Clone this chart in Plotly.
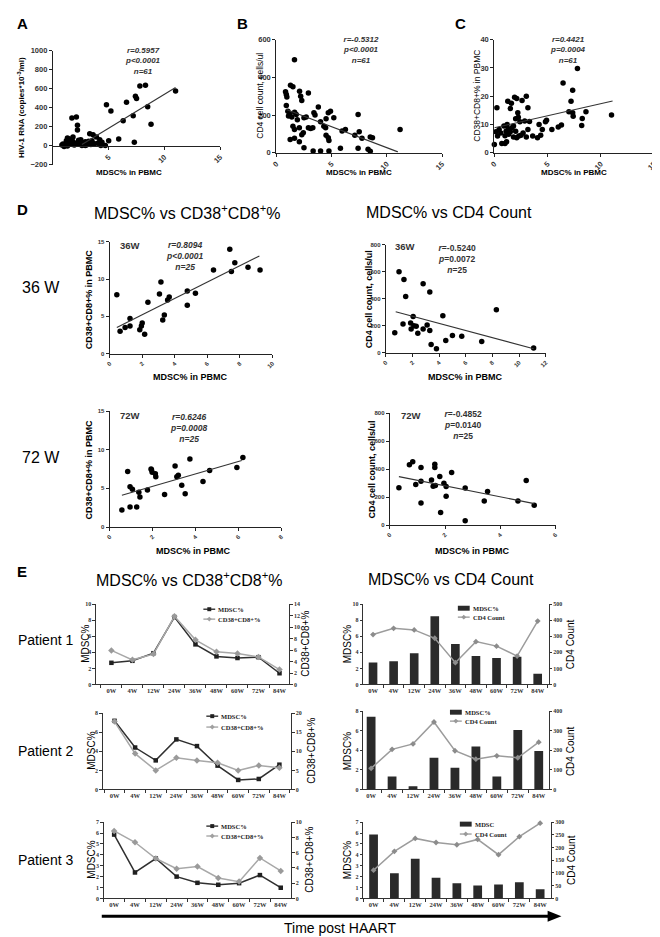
import plotly.graph_objects as go

SANS = "Liberation Sans, Arial, sans-serif"
SERIF = "Liberation Serif, Times New Roman, serif"
W, H = 660, 937

# ---------------- data ----------------
A_x = [11.0, 8.3, 7.8, 7.4, 7.5, 6.6, 8.5, 8.8, 7.2, 6.3, 5.9, 7.3, 4.8, 5.2, 1.7, 2.1, 2.2, 2.2, 3.3, 3.6,
       3.9, 4.2, 4.4, 5.0, 4.3, 4.7, 3.5, 2.9, 3.1, 2.5, 1.3, 1.5, 1.8, 0.9, 1.1, 1.2, 1.4, 1.6, 1.9, 2.3,
       2.6, 2.7, 2.8, 3.0, 3.2, 3.7, 1.0, 1.3, 1.7, 2.1, 2.4, 2.6, 0.8, 1.5, 2.0, 3.4, 4.0, 1.2, 1.8, 2.9, 2.3]
A_y = [575, 635, 627, 520, 495, 455, 410, 225, 315, 260, 70, 35, 430, 365, 290, 300, 215, 165, 125, 115,
       90, 60, 35, 50, 0, 0, 50, 40, 20, 60, 80, 70, 40, 15, 5, 30, 10, 20, 5, 15,
       0, 30, 10, 5, 45, 20, -10, -5, 55, 25, 35, 20, 5, 35, 10, 10, 25, 50, 90, 0, 55]
A_fit_x = [2.6, 11.0]
A_fit_y = [10, 612]

B_x = [1.64, 1.28, 1.5, 0.83, 0.9, 0.95, 2.1, 2.2, 2.3, 2.9, 3.8, 4.9, 4.7, 4.5, 5.2, 3.4, 3.5, 7.4, 11.2, 6.25,
       7.5, 7.75, 8.5, 8.7, 7.1, 5.95, 4.46, 4.5, 4.7, 4.76, 2.9, 3.1, 3.3, 2.08, 1.64, 1.5, 1.25, 1.64, 2.08, 2.44,
       2.3, 3.33, 4.0, 4.76, 5.8, 7.4, 8.3, 8.5, 2.5, 1.04, 1.1, 1.2, 1.8, 1.65, 2.5, 4.0, 4.3, 1.4, 2.7, 1.9, 0.9]
B_y = [494, 358, 350, 323, 309, 295, 326, 300, 277, 317, 242, 220, 212, 180, 185, 212, 200, 203, 123, 123,
       111, 76, 83, 79, 93, 115, 132, 93, 79, 65, 132, 128, 132, 132, 123, 140, 70, 76, 58, 106,
       95, 9, 9, 9, 23, 23, 18, 8, 26, 220, 195, 205, 203, 215, 185, 164, 140, 190, 190, 175, 250]
B_fit_x = [0.9, 11.0]
B_fit_y = [229, 4]

C_x = [0.0, 0.24, 1.26, 1.5, 1.9, 2.1, 2.6, 3.0, 3.15, 2.2, 2.25, 2.4, 2.85, 0.45, 0.15, 0.3, 0.9, 1.2, 1.1, 1.35,
       1.5, 1.65, 1.8, 0.7, 1.0, 1.15, 2.1, 2.3, 2.5, 1.8, 2.0, 3.15, 3.6, 4.05, 4.35, 4.5, 4.8, 4.9, 4.2, 5.4,
       6.0, 6.3, 6.45, 7.2, 7.35, 7.35, 7.0, 7.4, 7.8, 8.2, 8.25, 8.6, 11.0, 0.6, 1.3, 2.7, 3.3, 2.0, 1.0, 3.0, 1.6]
C_y = [2.9, 15.9, 18.2, 15.6, 19.6, 19.2, 18.5, 20.0, 15.9, 14.1, 12.5, 10.9, 11.2, 8.2, 7.4, 5.9, 9.4, 10.0, 7.6, 6.5,
       7.4, 8.8, 9.4, 3.2, 3.2, 3.9, 5.3, 5.9, 6.2, 5.5, 7.6, 8.2, 5.9, 5.3, 6.2, 8.2, 10.9, 11.5, 10.0, 8.2,
       9.1, 9.8, 24.7, 18.2, 22.1, 14.1, 14.5, 12.9, 29.8, 9.6, 12.1, 14.5, 13.3, 7.0, 8.5, 7.0, 11.0, 12.0, 6.0, 5.5, 17.5]
C_fit_x = [0.0, 11.1]
C_fit_y = [8.8, 18.3]

D1L_x = [0.44, 0.64, 0.95, 1.25, 1.25, 1.85, 1.95, 2.0, 2.15, 2.35, 3.06, 3.15, 3.26, 3.36, 3.56, 3.66, 4.77, 4.77,
         5.27, 6.38, 7.38, 7.48, 7.69, 8.5, 9.24]
D1L_y = [7.9, 3.0, 3.5, 3.7, 4.7, 3.2, 3.7, 4.1, 2.6, 6.9, 8.0, 9.6, 4.5, 5.2, 7.2, 7.6, 6.5, 8.4,
         8.1, 11.2, 14.0, 11.0, 12.2, 11.6, 11.2]
D1L_fit_x = [0.44, 9.2]
D1L_fit_y = [3.5, 13.1]

D1R_x = [0.67, 0.99, 1.36, 1.49, 1.29, 1.86, 1.9, 2.05, 2.1, 2.28, 2.4, 2.8, 2.8, 3.1, 3.3, 3.3, 3.4, 3.8,
         4.28, 4.5, 5.0, 5.7, 7.2, 8.3, 11.1]
D1R_y = [147, 599, 543, 416, 213, 220, 176, 269, 200, 196, 144, 511, 176, 205, 450, 164, 61, 29,
         274, 90, 127, 122, 83, 318, 34]
D1R_fit_x = [0.74, 11.1]
D1R_fit_y = [303, 29]

D2L_x = [0.57, 0.84, 0.95, 0.95, 1.06, 1.26, 1.36, 1.41, 1.76, 1.95, 1.98, 2.13, 2.15, 2.56, 3.05, 3.13, 3.36,
         3.52, 3.74, 4.35, 4.66, 5.93, 6.21, 1.93, 3.2]
D2L_y = [2.2, 7.2, 2.6, 5.2, 4.9, 2.6, 4.5, 3.9, 4.8, 7.4, 7.1, 6.9, 6.5, 4.2, 7.9, 6.5, 5.4,
         4.3, 8.8, 5.9, 7.3, 7.7, 9.0, 7.5, 6.7]
D2L_fit_x = [0.57, 6.16]
D2L_fit_y = [4.1, 8.6]

D2R_x = [0.33, 0.71, 0.83, 0.94, 1.13, 1.13, 1.13, 1.51, 1.57, 1.63, 1.63, 1.65, 1.81, 1.84, 1.96, 2.04, 2.04,
         2.24, 2.73, 2.73, 3.42, 3.54, 4.64, 4.94, 5.23]
D2R_y = [266, 431, 452, 289, 412, 313, 158, 322, 278, 435, 412, 282, 346, 89, 299, 275, 205,
         376, 264, 31, 172, 240, 172, 318, 141]
D2R_fit_x = [0.33, 5.23]
D2R_fit_y = [346, 153]

WEEKS = ["0W", "4W", "12W", "24W", "36W", "48W", "60W", "72W", "84W"]
p1_mdsc = [2.7, 2.95, 3.9, 8.4, 5.0, 3.5, 3.3, 3.4, 1.4]
p1_cd38 = [5.95, 4.3, 5.3, 11.9, 7.8, 5.7, 5.4, 4.8, 2.6]
p1_bar = [2.75, 2.9, 3.9, 8.5, 5.05, 3.55, 3.3, 3.45, 1.35]
p1_cd4 = [311, 350, 340, 288, 136, 267, 239, 177, 395]
p2_mdsc = [7.2, 4.4, 3.05, 5.25, 4.55, 2.5, 1.0, 1.1, 2.6]
p2_cd38 = [17.8, 9.4, 5.0, 8.3, 7.6, 7.0, 5.0, 6.3, 5.7]
p2_bar = [7.43, 1.33, 0.33, 3.23, 2.23, 4.4, 1.33, 6.07, 3.93]
p2_cd4 = [108, 205, 233, 345, 198, 155, 172, 162, 242]
p3_mdsc = [5.86, 2.38, 3.66, 2.0, 1.43, 1.25, 1.4, 2.14, 0.98]
p3_cd38 = [8.85, 7.36, 5.23, 3.9, 4.17, 2.68, 2.2, 5.3, 3.6]
p3_bar = [5.86, 2.32, 3.63, 1.9, 1.4, 1.19, 1.28, 1.49, 0.83]
p3_cd4 = [111, 185, 236, 220, 211, 232, 172, 243, 296]

# ---------------- helpers ----------------
fig = go.Figure()
layout = {}
annotations = []
shapes = []
cnt = {"x": 0, "y": 0}


def fx(p):
    return p / W


def fy(p):
    return 1 - p / H


def new_ax(letter):
    cnt[letter] += 1
    k = cnt[letter]
    return (f"{letter}axis" if k == 1 else f"{letter}axis{k}"), (letter if k == 1 else f"{letter}{k}")


def text(x, y, s, size, bold=False, color="black", family=SANS, xanchor="left", yanchor="middle", angle=0):
    annotations.append(dict(x=fx(x), y=fy(y), xref="paper", yref="paper", text=s, showarrow=False,
                            font=dict(family=family, size=size, color=color, weight="bold" if bold else "normal"),
                            xanchor=xanchor, yanchor=yanchor, textangle=angle, borderpad=0))


def scatter_panel(box, xr, xt, yr, yt, px, py, lx, ly, tick_size=7, x_at=None):
    x0, x1, t, b = box
    xn, xa = new_ax("x")
    yn, ya = new_ax("y")
    fig.add_trace(go.Scatter(x=px, y=py, mode="markers", marker=dict(color="black", size=5.5),
                             xaxis=xa, yaxis=ya, showlegend=False, cliponaxis=False))
    fig.add_trace(go.Scatter(x=lx, y=ly, mode="lines", line=dict(color="#333", width=1.1),
                             xaxis=xa, yaxis=ya, showlegend=False))
    common = dict(showline=True, linecolor="#222", linewidth=1.2, ticks="outside", ticklen=3, tickwidth=1.2,
                  tickcolor="#222", showgrid=False, zeroline=False,
                  tickfont=dict(family=SANS, size=tick_size, color="#333", weight="bold"))
    xd = dict(domain=[fx(x0), fx(x1)], range=xr, tickvals=xt, tickangle=-45, **common)
    if x_at is not None:
        xd.update(anchor="free", position=fy(x_at))
    else:
        xd.update(anchor=ya)
    layout[xn] = xd
    layout[yn] = dict(domain=[fy(b), fy(t)], range=yr, tickvals=yt, anchor=xa, **common)


def dual_panel(box, xr, lvals, rvals, bars, ylr, ylt, yrr, yrt):
    x0, x1, t, b = box
    xn, xa = new_ax("x")
    yln, yl = new_ax("y")
    yrn, yr = new_ax("y")
    if bars:
        fig.add_trace(go.Bar(x=WEEKS, y=lvals, marker=dict(color="#2a2a2a", line=dict(width=0)), width=0.42,
                             xaxis=xa, yaxis=yl, showlegend=False))
        fig.add_trace(go.Scatter(x=WEEKS, y=rvals, mode="lines+markers", line=dict(color="#9c9c9c", width=1.5),
                                 marker=dict(symbol="diamond", size=4.5, color="#8c8c8c"),
                                 xaxis=xa, yaxis=yr, showlegend=False, cliponaxis=False))
    else:
        fig.add_trace(go.Scatter(x=WEEKS, y=lvals, mode="lines+markers", line=dict(color="#303030", width=1.5),
                                 marker=dict(symbol="square", size=4.5, color="#202020"),
                                 xaxis=xa, yaxis=yl, showlegend=False, cliponaxis=False))
        fig.add_trace(go.Scatter(x=WEEKS, y=rvals, mode="lines+markers", line=dict(color="#a8a8a8", width=1.5),
                                 marker=dict(symbol="diamond", size=5, color="#9a9a9a"),
                                 xaxis=xa, yaxis=yr, showlegend=False, cliponaxis=False))
    common = dict(showline=True, linecolor="#333", linewidth=1, ticks="outside", ticklen=2.5, tickwidth=1,
                  tickcolor="#333", showgrid=False, zeroline=False,
                  tickfont=dict(family=SERIF, size=6, color="#333", weight="bold"))
    layout[xn] = dict(domain=[fx(x0), fx(x1)], anchor=yl, type="category", categoryorder="array",
                      categoryarray=WEEKS, range=xr, tickson="boundaries", tickangle=0,
                      **{**common, "tickfont": dict(family=SERIF, size=6.5, color="#333", weight="bold")})
    layout[yln] = dict(domain=[fy(b), fy(t)], anchor=xa, range=ylr, tickvals=ylt, **common)
    layout[yrn] = dict(overlaying=yl, side="right", anchor=xa, range=yrr, tickvals=yrt, **common)


def legend_entry(x, y, kind, label, color):
    if kind == "bar":
        shapes.append(dict(type="rect", xref="paper", yref="paper", x0=fx(x), x1=fx(x + 12),
                           y0=fy(y + 2.5), y1=fy(y - 2.5), fillcolor=color, line=dict(width=0)))
    else:
        shapes.append(dict(type="line", xref="paper", yref="paper", x0=fx(x), x1=fx(x + 12),
                           y0=fy(y), y1=fy(y), line=dict(color=color, width=1.3)))
        cx = x + 6
        if kind == "square":
            shapes.append(dict(type="rect", xref="paper", yref="paper", x0=fx(cx - 2), x1=fx(cx + 2),
                               y0=fy(y + 2), y1=fy(y - 2), fillcolor=color, line=dict(width=0)))
        else:
            path = (f"M {fx(cx)},{fy(y - 2.5)} L {fx(cx + 2.5)},{fy(y)} L {fx(cx)},{fy(y + 2.5)} "
                    f"L {fx(cx - 2.5)},{fy(y)} Z")
            shapes.append(dict(type="path", xref="paper", yref="paper", path=path, fillcolor=color,
                               line=dict(width=0)))
    text(x + 14, y, label, 6.5, bold=True, family=SERIF, color="#222")


# ---------------- Row A / B / C ----------------
scatter_panel((40.5, 210, 39, 154), [0, 15], [5, 10, 15], [-200, 1000], [-200, 0, 200, 400, 600, 800, 1000],
              A_x, A_y, A_fit_x, A_fit_y, tick_size=7.5, x_at=135)
scatter_panel((267, 435, 28, 142), [0, 15], [0, 5, 10, 15], [0, 600], [0, 200, 400, 600],
              B_x, B_y, B_fit_x, B_fit_y, tick_size=7.5)
scatter_panel((488, 650, 28, 142), [0, 15], [0, 5, 10, 15], [0, 40], [0, 10, 20, 30, 40],
              C_x, C_y, C_fit_x, C_fit_y, tick_size=7.5)

text(3, 12, "A", 15, bold=True)
text(226, 12, "B", 15, bold=True)
text(447, 12, "C", 15, bold=True)
text(8, 96, "HIV-1 RNA (copies*10<sup>-3</sup>/ml)", 8, bold=True, angle=-90, xanchor="center")
text(251, 85, "CD4 cell count, cells/ul", 8.5, angle=-90, xanchor="center")
text(471, 85, "CD38+CD8+% in PBMC", 8.5, angle=-90, xanchor="center")
for cx in (118, 351, 569):
    text(cx, 162, "MDSC% in PBMC", 8, bold=True, xanchor="center")
text(113, 33, "<i>r=0.5957</i><br><i>p&lt;0.0001</i><br><i>n=61</i>", 8, bold=True, color="#333", yanchor="top")
text(334, 22, "<i>r=-0.5312</i><br><i>p&lt;0.0001</i><br><i>n=61</i>", 8, bold=True, color="#333", yanchor="top")
text(543, 22, "<i>r=0.4421</i><br><i>p=0.0004</i><br><i>n=61</i>", 8, bold=True, color="#333", yanchor="top")

# ---------------- Panel D ----------------
scatter_panel((98, 263, 232, 345), [0, 10], [0, 2, 4, 6, 8, 10], [0, 15], [0, 5, 10, 15],
              D1L_x, D1L_y, D1L_fit_x, D1L_fit_y, tick_size=6)
scatter_panel((378, 540, 235, 344), [0, 12], [0, 2, 4, 6, 8, 10, 12], [0, 800], [0, 200, 400, 600, 800],
              D1R_x, D1R_y, D1R_fit_x, D1R_fit_y, tick_size=6)
scatter_panel((98, 272, 403, 520), [0, 8], [0, 2, 4, 6, 8], [0, 15], [0, 5, 10, 15],
              D2L_x, D2L_y, D2L_fit_x, D2L_fit_y, tick_size=6)
scatter_panel((382, 550, 405, 518), [0, 6], [0, 2, 4, 6], [0, 800], [0, 200, 400, 600, 800],
              D2R_x, D2R_y, D2R_fit_x, D2R_fit_y, tick_size=6)

text(3, 199, "D", 15, bold=True)
text(176, 202, "MDSC% vs CD38<sup>+</sup>CD8<sup>+</sup>%", 16, xanchor="center")
text(442, 202, "MDSC% vs CD4 Count", 16, xanchor="center")
text(8, 278, "36 W", 16)
text(8, 450, "72 W", 16)
text(77, 290, "CD38+CD8+% in PBMC", 9, bold=True, angle=-90, xanchor="center")
text(361, 290, "CD4 cell count, cells/ul", 9, bold=True, angle=-90, xanchor="center")
text(77, 462, "CD38+CD8+% in PBMC", 9, bold=True, angle=-90, xanchor="center")
text(364, 462, "CD4 cell count, cells/ul", 9, bold=True, angle=-90, xanchor="center")
text(180, 369, "MDSC% in PBMC", 9, bold=True, xanchor="center")
text(459, 369, "MDSC% in PBMC", 9, bold=True, xanchor="center")
text(183, 544, "MDSC% in PBMC", 9, bold=True, xanchor="center")
text(466, 544, "MDSC% in PBMC", 9, bold=True, xanchor="center")
text(107, 236, "36W", 9.5, bold=True, color="#333")
text(386, 237, "36W", 9.5, bold=True, color="#333")
text(107, 407, "72W", 9.5, bold=True, color="#333")
text(392, 407, "72W", 9.5, bold=True, color="#333")
text(154, 229, "<i>r=0.8094</i><br><i>p&lt;0.0001</i><br><i>n=25</i>", 8.5, bold=True, color="#333", yanchor="top")
text(430, 232, "<i>r</i>=-0.5240<br><i>p</i>=0.0072<br><i>n</i>=25", 8.5, bold=True, color="#333", yanchor="top")
text(158, 403, "<i>r=0.6246</i><br><i>p=0.0008</i><br><i>n=25</i>", 8.5, bold=True, color="#333", yanchor="top")
text(436, 400, "<i>r</i>=-0.4852<br><i>p</i>=0.0140<br><i>n</i>=25", 8.5, bold=True, color="#333", yanchor="top")

# ---------------- Panel E ----------------
dual_panel((84, 280, 598, 679), [-0.74, 8.46], p1_mdsc, p1_cd38, False,
           [0, 10], [0, 2, 4, 6, 8, 10], [0, 14], [0, 2, 4, 6, 8, 10, 12, 14])
dual_panel((355, 543, 598, 679), [-0.48, 8.53], p1_bar, p1_cd4, True,
           [0, 10], [0, 2, 4, 6, 8, 10], [0, 500], [0, 100, 200, 300, 400, 500])
dual_panel((91, 282, 708, 785), [-0.57, 8.57], p2_mdsc, p2_cd38, False,
           [0, 8], [0, 2, 4, 6, 8], [0, 20], [0, 5, 10, 15, 20])
dual_panel((355, 543, 706, 785), [-0.38, 8.47], p2_bar, p2_cd4, True,
           [0, 8], [0, 2, 4, 6, 8], [0, 400], [0, 100, 200, 300, 400])
dual_panel((92, 282, 818, 895), [-0.5, 8.5], p3_mdsc, p3_cd38, False,
           [0, 7], [0, 1, 2, 3, 4, 5, 6, 7], [0, 10], [0, 2, 4, 6, 8, 10])
dual_panel((355, 545, 818, 895), [-0.5, 8.5], p3_bar, p3_cd4, True,
           [0, 7], [0, 1, 2, 3, 4, 5, 6, 7], [0, 300], [0, 50, 100, 150, 200, 250, 300])

text(3, 565, "E", 15, bold=True)
text(178, 573, "MDSC% vs CD38<sup>+</sup>CD8<sup>+</sup>%", 16, xanchor="center")
text(444, 573, "MDSC% vs CD4 Count", 16, xanchor="center")
text(4, 634, "Patient 1", 14)
text(4, 746, "Patient 2", 14)
text(4, 856, "Patient 3", 14)

for (lx, rx, yc, rt) in [(74, 297, 638, "CD38+CD8+%"), (80, 303, 746, "CD38+CD8+%"),
                         (80, 301, 856, "CD38+CD8+%")]:
    text(lx, yc, "MDSC%", 10, angle=-90, xanchor="center")
    text(rx, yc, rt, 10, angle=-90, xanchor="center")
for yc in (638, 746, 856):
    text(339, yc, "MDSC%", 10, angle=-90, xanchor="center")
    text(566, yc, "CD4 Count", 10, angle=-90, xanchor="center")

legend_entry(193, 603, "square", "MDSC%", "#222")
legend_entry(193, 613, "diamond", "CD38+CD8+%", "#a0a0a0")
legend_entry(451, 602, "bar", "MDSC%", "#2a2a2a")
legend_entry(451, 611, "diamond", "CD4 Count", "#999")
legend_entry(196, 711, "square", "MDSC%", "#222")
legend_entry(196, 722, "diamond", "CD38+CD8+%", "#a0a0a0")
legend_entry(443, 707, "bar", "MDSC%", "#2a2a2a")
legend_entry(443, 716, "diamond", "CD4 Count", "#999")
legend_entry(196, 822, "square", "MDSC%", "#222")
legend_entry(196, 832, "diamond", "CD38+CD8+%", "#a0a0a0")
legend_entry(453, 820, "bar", "MDSC", "#2a2a2a")
legend_entry(453, 830, "diamond", "CD4 Count", "#999")

# arrow (decoration) + caption
shapes.append(dict(type="line", xref="paper", yref="paper", x0=fx(90), x1=fx(545), y0=fy(913), y1=fy(913),
                   line=dict(color="black", width=3)))
shapes.append(dict(type="path", xref="paper", yref="paper",
                   path=f"M {fx(542)},{fy(907.5)} L {fx(556)},{fy(913)} L {fx(542)},{fy(918.5)} Z",
                   fillcolor="black", line=dict(width=0)))
text(332, 925, "Time post HAART", 14, xanchor="center")

fig.update_layout(width=W, height=H, margin=dict(l=0, r=0, t=0, b=0), plot_bgcolor="white",
                  paper_bgcolor="white", showlegend=False, annotations=annotations, shapes=shapes,
                  bargap=0.5, **layout)
fig.write_html("out.html")
